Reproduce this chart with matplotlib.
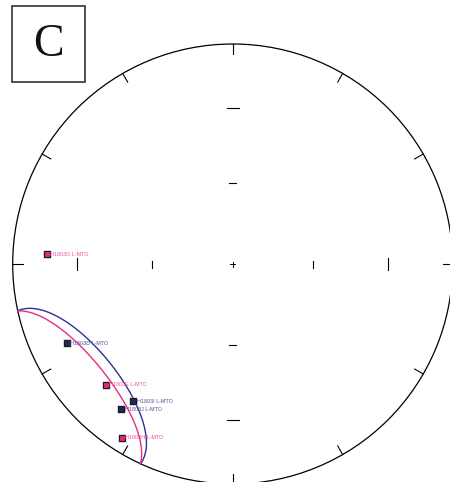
import numpy as np
import matplotlib.pyplot as plt
from matplotlib.patches import Circle, Rectangle

# lineation data (trend, plunge in degrees), lower hemisphere
labels = ['H1803G L-MTO', 'H1803D L-MTO', 'H1803E L-MTO',
          'H1803I L-MTO', 'H1803J L-MTO', 'H1803H L-MTO']
trends = [273.0, 244.5, 226.5, 216.0, 217.5, 212.5]
plunges = [16.5, 17.5, 21.5, 24.0, 18.0, 7.0]
groups = ['pink', 'blue', 'pink', 'blue', 'blue', 'pink']

# confidence cones: axis trend, axis plunge, half angle
cone_groups = ['blue', 'pink']
cone_trends = [231.25, 231.25]
cone_plunges = [2.5, -2.0]
cone_angles = [26.6, 26.5]

line_col = {'pink': '#ea2a85', 'blue': '#2e3192'}
face_col = {'pink': '#e8237f', 'blue': '#22245e'}
text_col = {'pink': '#ef4f9c', 'blue': '#4d509a'}


def equal_area(trend, plunge):
    t = np.radians(trend)
    p = np.radians(plunge)
    r = np.sqrt(2) * np.sin((np.pi / 2 - p) / 2)
    return r * np.sin(t), r * np.cos(t)


def small_circle(trend, plunge, angle, n=3000):
    t, p, a = np.radians([trend, plunge, angle])
    axis = np.array([np.cos(p) * np.cos(t), np.cos(p) * np.sin(t), np.sin(p)])
    ref = np.array([0.0, 0.0, 1.0]) if abs(axis[2]) < 0.9 else np.array([1.0, 0.0, 0.0])
    u = np.cross(axis, ref)
    u /= np.linalg.norm(u)
    w = np.cross(axis, u)
    s = np.linspace(0, 2 * np.pi, n)
    v = (np.cos(a) * axis[:, None]
         + np.sin(a) * (np.cos(s) * u[:, None] + np.sin(s) * w[:, None]))
    # start the loop at the highest point so the lower part is contiguous
    k = np.argmin(v[2])
    v = np.roll(v, -k, axis=1)
    down = v[2] >= 0
    tr = np.degrees(np.arctan2(v[1], v[0]))
    pl = np.degrees(np.arcsin(np.clip(v[2], -1, 1)))
    x, y = equal_area(tr, pl)
    x[~down] = np.nan
    y[~down] = np.nan
    return x, y


W, H = 450, 482
cx, cy, R = 232.7, 264.0, 220.0

fig = plt.figure(figsize=(W / 100, H / 100), dpi=100)
ax = fig.add_axes([0, 0, 1, 1])
ax.set_xlim(-cx / R, (W - cx) / R)
ax.set_ylim((cy - H) / R, cy / R)
ax.axis('off')

# primitive circle and azimuth ticks every 30 degrees
ax.add_patch(Circle((0, 0), 1, fill=False, lw=0.9, color='black'))
for az in range(0, 360, 30):
    s, c = np.sin(np.radians(az)), np.cos(np.radians(az))
    ax.plot([s, 0.955 * s], [c, 0.955 * c], color='black', lw=0.8)

# plunge ticks at 30 and 60 degrees along the main axes
for az in [0, 90, 180, 270]:
    for pl, half in [(30, 6 / R), (60, 3.5 / R)]:
        x, y = equal_area(az, pl)
        if az in (0, 180):
            ax.plot([x - half, x + half], [y, y], color='black', lw=0.8)
        else:
            ax.plot([x, x], [y - half, y + half], color='black', lw=0.8)
ax.plot([-2.5 / R, 2.5 / R], [0, 0], color='black', lw=0.7)
ax.plot([0, 0], [-2.5 / R, 2.5 / R], color='black', lw=0.7)

# cones
for g, tr, pl, ang in zip(cone_groups, cone_trends, cone_plunges, cone_angles):
    x, y = small_circle(tr, pl, ang)
    ax.plot(x, y, color=line_col[g], lw=1.0)

# lineations with labels
for lab, tr, pl, g in zip(labels, trends, plunges, groups):
    x, y = equal_area(tr, pl)
    ax.plot(x, y, 's', ms=5.6, mfc='#a8a8a8', mec='none', alpha=0.7)
    ax.plot(x, y, 's', ms=4.2, mfc=face_col[g], mec='#1a1a1a', mew=0.8)
    ax.text(x + 3.5 / R, y, lab, fontsize=3.9, color=text_col[g],
            family='Liberation Sans', va='center', ha='left')

# panel letter
fig.add_artist(Rectangle((12 / W, 1 - 82 / H), 73 / W, 76 / H, fill=False,
                         lw=1.1, ec='#222222', transform=fig.transFigure))
fig.text(48.5 / W, 1 - 45 / H, 'C', fontsize=33, family='Liberation Serif',
         ha='center', va='center', color='#111111')

fig.savefig('out.png', dpi=100)
